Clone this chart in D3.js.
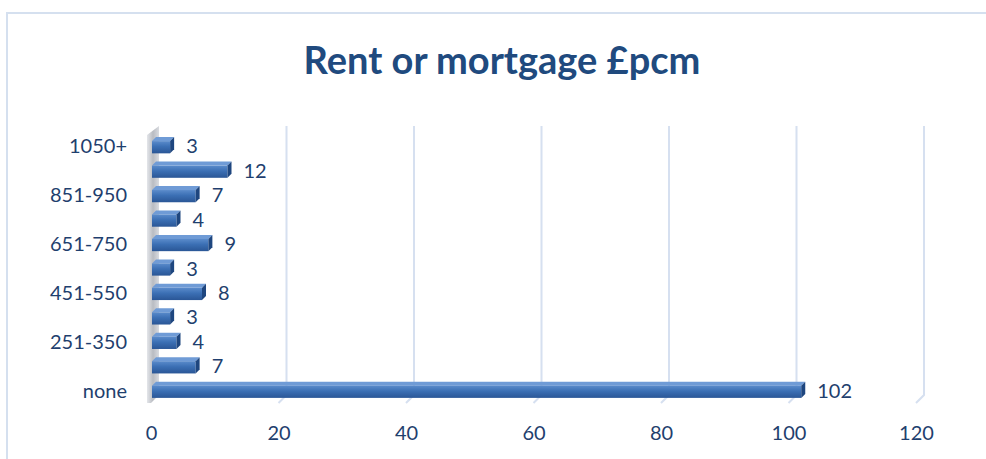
<!DOCTYPE html>
<html><head><meta charset="utf-8">
<script src="https://cdn.jsdelivr.net/npm/d3@7"></script>
<style>body{margin:0;background:#fff;} svg{display:block;font-family:Lato,"Open Sans",sans-serif;}</style>
</head><body><svg id="c" width="986" height="459"></svg>
<script>
const categories = ["none","1-250","251-350","351-450","451-550","551-650","651-750","751-850","851-950","951-1050","1050+"];
const values = [102,7,4,3,8,3,9,4,7,12,3];
const xTicks = [0,20,40,60,80,100,120];
const title = "Rent or mortgage £pcm";

const svg = d3.select("#c");
const W = 986, H = 459;
const dx = 8, dy = -8;       // back-wall depth offset
const bdx = 4, bdy = -4;     // bar depth
const x = d3.scaleLinear().domain([0,120]).range([151,916]);
const y = d3.scaleBand().domain(categories).range([403,134]).paddingInner(0.5).paddingOuter(0.25);

const defs = svg.append("defs");
const g1 = defs.append("linearGradient").attr("id","barFront").attr("x1",0).attr("y1",0).attr("x2",0).attr("y2",1);
g1.append("stop").attr("offset","0%").attr("stop-color","#5a8bcb");
g1.append("stop").attr("offset","45%").attr("stop-color","#3b6fb4");
g1.append("stop").attr("offset","100%").attr("stop-color","#2a5696");
const g2 = defs.append("linearGradient").attr("id","wall").attr("x1",0).attr("y1",0).attr("x2",1).attr("y2",0);
g2.append("stop").attr("offset","0%").attr("stop-color","#e4e6ea");
g2.append("stop").attr("offset","50%").attr("stop-color","#b9bcc2");
g2.append("stop").attr("offset","100%").attr("stop-color","#d9dbe0");

// chart border
svg.append("rect").attr("x",7).attr("y",13).attr("width",W).attr("height",H)
  .attr("fill","none").attr("stroke","#d5e0ef").attr("stroke-width",2);

// title
svg.append("text").attr("x",502).attr("y",74).attr("text-anchor","middle")
  .attr("font-size",38).attr("font-weight","bold").attr("fill","#204a7e").text(title);

// gridlines (back wall + floor foot)
const yTopBack = 126, yBotBack = 395;
xTicks.slice(1).forEach(t => {
  const xb = x(t) + dx;
  svg.append("path").attr("d",`M${xb},${yTopBack}L${xb},${yBotBack}L${x(t)},${yBotBack - dy}`)
    .attr("fill","none").attr("stroke","#d6e0f0").attr("stroke-width",2);
});

// left wall
svg.append("path").attr("d",`M147,${yTopBack - dy + 1}L${151+dx},${yTopBack}L${151+dx},${yBotBack}L${151},${yBotBack-dy}L147,${yBotBack-dy}Z`)
  .attr("fill","url(#wall)");

// bars
const bh = y.bandwidth();
const bars = svg.append("g");
categories.forEach((c,i) => {
  const v = values[i];
  const x0 = x(0)+1, x1 = x(v);
  const yt = y(c) + 1, yb = y(c) + bh + 1;
  bars.append("path").attr("d",`M${x0},${yt}L${x0+bdx},${yt+bdy}L${x1+bdx},${yt+bdy}L${x1},${yt}Z`).attr("fill","#6f9bd6");
  bars.append("rect").attr("x",x0).attr("y",yt).attr("width",x1-x0).attr("height",yb-yt).attr("fill","url(#barFront)");
  bars.append("path").attr("d",`M${x1},${yt}L${x1+bdx},${yt+bdy}L${x1+bdx},${yb+bdy}L${x1},${yb}Z`).attr("fill","#1e467f");
  svg.append("text").attr("x",x1+bdx+12).attr("y",y(c)+bh/2+7).attr("font-size",20).attr("fill","#1f3f6e").text(v);
});

// category axis labels (every other)
categories.forEach((c,i) => {
  if (i % 2 !== 0) return;
  svg.append("text").attr("x",127).attr("y",y(c)+bh/2+7).attr("text-anchor","end")
    .attr("font-size",20).attr("fill","#1f3f6e").text(c);
});

// value axis labels
const xa = svg.append("g").attr("transform","translate(0,422)").call(d3.axisBottom(x).tickValues(xTicks).tickSize(0).tickPadding(0));
xa.select(".domain").remove();
xa.selectAll("text").attr("font-size",20).attr("fill","#1f3f6e").attr("font-family","Lato,'Open Sans',sans-serif").attr("dy","0.9em");
</script></body></html>
